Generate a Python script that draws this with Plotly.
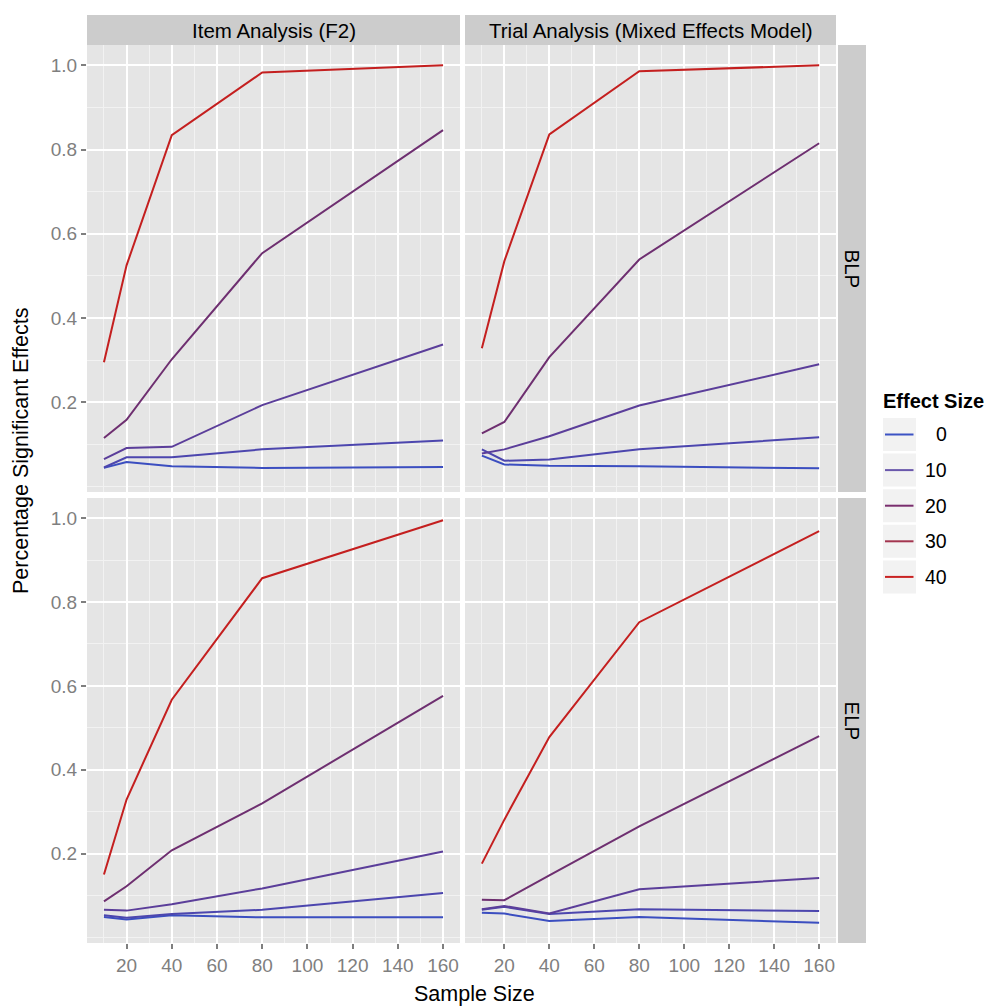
import plotly.graph_objects as go

# ---------------- data ----------------
sample_size = [10, 20, 40, 80, 160]
effect_sizes = [0, 10, 20, 30, 40]

# rows of each panel: one list per effect size (0, 10, 20, 30, 40)
blp_item = [
    [0.044, 0.058, 0.048, 0.044, 0.046],
    [0.045, 0.069, 0.069, 0.088, 0.109],
    [0.065, 0.091, 0.094, 0.193, 0.337],
    [0.115, 0.158, 0.302, 0.554, 0.846],
    [0.295, 0.525, 0.834, 0.983, 1.000],
]
blp_trial = [
    [0.073, 0.052, 0.049, 0.048, 0.043],
    [0.088, 0.061, 0.064, 0.088, 0.117],
    [0.078, 0.088, 0.119, 0.192, 0.290],
    [0.126, 0.153, 0.307, 0.539, 0.815],
    [0.328, 0.535, 0.836, 0.986, 1.000],
]
elp_item = [
    [0.049, 0.043, 0.053, 0.048, 0.048],
    [0.053, 0.047, 0.056, 0.066, 0.106],
    [0.066, 0.064, 0.079, 0.117, 0.205],
    [0.086, 0.122, 0.208, 0.320, 0.576],
    [0.150, 0.329, 0.567, 0.857, 0.995],
]
elp_trial = [
    [0.059, 0.057, 0.039, 0.049, 0.035],
    [0.066, 0.073, 0.056, 0.067, 0.063],
    [0.067, 0.075, 0.057, 0.115, 0.142],
    [0.090, 0.089, 0.148, 0.265, 0.480],
    [0.176, 0.281, 0.478, 0.752, 0.969],
]

col_labels = ["Item Analysis (F2)", "Trial Analysis (Mixed Effects Model)"]
row_labels = ["BLP", "ELP"]
x_ticks = [20, 40, 60, 80, 100, 120, 140, 160]
y_ticks = [0.2, 0.4, 0.6, 0.8, 1.0]

line_colors = ["#3B4EC0", "#4C46AE", "#5B3E9A", "#6E2F70", "#C41F1F"]
legend_colors = ["#3C53C4", "#6A58AC", "#7A2E6E", "#A3354F", "#C92222"]

# ---------------- layout helpers ----------------
W, H = 985, 1006
def fx(px):
    return px / W
def fy(py):
    return 1 - py / H

col_px = [(87, 460), (465, 836)]
row_px = [(45, 492), (498, 943)]

panels = [[blp_item, blp_trial], [elp_item, elp_trial]]

all_vals = [v for row in panels for p in row for s in p for v in s]
ymin, ymax = min(all_vals), max(all_vals)
ypad = 0.05 * (ymax - ymin)
yrange = [ymin - ypad, ymax + ypad]
xmin, xmax = min(sample_size), max(sample_size)
xpad = 0.05 * (xmax - xmin)
xrange = [xmin - xpad, xmax + xpad]

x_minor = [v for v in range(10, 170, 20)]
y_minor = [0.0, 0.1, 0.3, 0.5, 0.7, 0.9]

FONT = "Liberation Sans, Arial, Helvetica, sans-serif"
TICK_GREY = "#7F7F7F"

fig = go.Figure()
layout = dict(
    width=W, height=H, autosize=False,
    margin=dict(l=0, r=0, t=0, b=0),
    paper_bgcolor="white", plot_bgcolor="#E5E5E5",
    showlegend=False,
    font=dict(family=FONT, size=19, color="black"),
)

shapes = []
annotations = []

idx = 0
for r in range(2):
    for c in range(2):
        idx += 1
        xa = "xaxis" if idx == 1 else f"xaxis{idx}"
        ya = "yaxis" if idx == 1 else f"yaxis{idx}"
        xref = "x" if idx == 1 else f"x{idx}"
        yref = "y" if idx == 1 else f"y{idx}"
        layout[xa] = dict(
            domain=[fx(col_px[c][0]), fx(col_px[c][1])],
            anchor=yref, range=xrange,
            tickmode="array", tickvals=x_ticks, ticktext=[str(v) for v in x_ticks],
            showgrid=True, gridcolor="white", gridwidth=2,
            minor=dict(tickmode="array", tickvals=x_minor, showgrid=True,
                       gridcolor="#F2F2F2", gridwidth=1, ticks=""),
            zeroline=False, showline=False,
            ticks="outside" if r == 1 else "", ticklen=5, tickwidth=1.5,
            tickcolor=TICK_GREY,
            showticklabels=(r == 1),
            tickfont=dict(family=FONT, size=19, color=TICK_GREY),
        )
        layout[ya] = dict(
            domain=[fy(row_px[r][1]), fy(row_px[r][0])],
            anchor=xref, range=yrange,
            tickmode="array", tickvals=y_ticks, ticktext=[f"{v:.1f}" for v in y_ticks],
            showgrid=True, gridcolor="white", gridwidth=2,
            minor=dict(tickmode="array", tickvals=y_minor, showgrid=True,
                       gridcolor="#F2F2F2", gridwidth=1, ticks=""),
            zeroline=False, showline=False,
            ticks="outside" if c == 0 else "", ticklen=5, tickwidth=1.5,
            tickcolor=TICK_GREY,
            showticklabels=(c == 0),
            tickfont=dict(family=FONT, size=19, color=TICK_GREY),
        )
        data = panels[r][c]
        for k, es in enumerate(effect_sizes):
            fig.add_trace(go.Scatter(
                x=sample_size, y=data[k], mode="lines",
                name=str(es), xaxis=xref, yaxis=yref,
                line=dict(color=line_colors[k], width=2),
                hoverinfo="skip",
            ))

# column strips
for c in range(2):
    shapes.append(dict(type="rect", xref="paper", yref="paper",
                       x0=fx(col_px[c][0]), x1=fx(col_px[c][1]),
                       y0=fy(45), y1=fy(15), fillcolor="#CCCCCC", line=dict(width=0),
                       layer="below"))
    annotations.append(dict(xref="paper", yref="paper",
                            x=(fx(col_px[c][0]) + fx(col_px[c][1])) / 2, y=fy(30),
                            text=col_labels[c], showarrow=False,
                            font=dict(family=FONT, size=20.5, color="black"),
                            xanchor="center", yanchor="middle"))
# row strips
for r in range(2):
    shapes.append(dict(type="rect", xref="paper", yref="paper",
                       x0=fx(838), x1=fx(866),
                       y0=fy(row_px[r][1]), y1=fy(row_px[r][0]),
                       fillcolor="#CCCCCC", line=dict(width=0), layer="below"))
    annotations.append(dict(xref="paper", yref="paper",
                            x=fx(852), y=(fy(row_px[r][0]) + fy(row_px[r][1])) / 2,
                            text=row_labels[r], showarrow=False, textangle=90,
                            font=dict(family=FONT, size=20.5, color="black"),
                            xanchor="center", yanchor="middle"))

# axis titles
annotations.append(dict(xref="paper", yref="paper", x=fx(474), y=fy(994),
                        text="Sample Size", showarrow=False,
                        font=dict(family=FONT, size=21.5, color="black"),
                        xanchor="center", yanchor="middle"))
annotations.append(dict(xref="paper", yref="paper", x=fx(21), y=fy(451),
                        text="Percentage Significant Effects", showarrow=False,
                        textangle=-90,
                        font=dict(family=FONT, size=21.5, color="black"),
                        xanchor="center", yanchor="middle"))

# legend (ggplot-style guide)
annotations.append(dict(xref="paper", yref="paper", x=fx(881), y=fy(401),
                        text="<b>Effect Size</b>", showarrow=False,
                        font=dict(family=FONT, size=20, color="black"),
                        xanchor="left", yanchor="middle"))
key_top = 418
key_step = 35.6
for k, es in enumerate(effect_sizes):
    t = key_top + k * key_step
    b = t + 33
    cy = (t + b) / 2
    shapes.append(dict(type="rect", xref="paper", yref="paper",
                       x0=fx(883), x1=fx(916), y0=fy(b), y1=fy(t),
                       fillcolor="#F2F2F2", line=dict(width=0)))
    shapes.append(dict(type="line", xref="paper", yref="paper",
                       x0=fx(885), x1=fx(913.5), y0=fy(cy), y1=fy(cy),
                       line=dict(color=legend_colors[k], width=2)))
    annotations.append(dict(xref="paper", yref="paper", x=fx(949), y=fy(cy),
                            text=str(es), showarrow=False,
                            font=dict(family=FONT, size=19.5, color="black"),
                            xanchor="right", yanchor="middle"))

layout["shapes"] = shapes
layout["annotations"] = annotations
fig.update_layout(**layout)

fig.write_html("out.html")
